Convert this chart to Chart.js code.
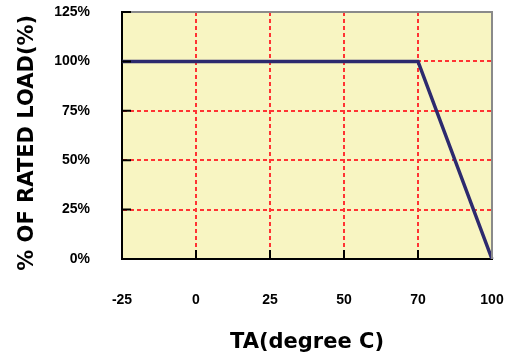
<!DOCTYPE html>
<html><head><meta charset="utf-8">
<script src="https://cdn.jsdelivr.net/npm/chart.js@4/dist/chart.umd.min.js"></script>
<style>html,body{margin:0;padding:0;background:#fff}#wrap{width:508px;height:356px}</style>
</head><body><div id="wrap"><canvas id="c" width="508" height="356"></canvas></div>
<script>
const categories = ['-25', '0', '25', '50', '70', '100'];
const loadValues = [100, 100, 100, 100, 100, 0];
const yTicks = [0, 25, 50, 75, 100, 125];
const xTitle = 'TA(degree C)';
const yTitle = '% OF RATED LOAD(%)';

const tickFont = {family: '"Liberation Sans", Arial, sans-serif', size: 14, weight: 'bold'};
const titleFont = {family: '"DejaVu Sans", sans-serif', size: 21, weight: 'bold'};

const framePlugin = {
  id: 'frame',
  beforeDraw(chart) {
    const a = chart.chartArea, ctx = chart.ctx;
    ctx.save();
    ctx.fillStyle = '#F8F5C2';
    ctx.fillRect(a.left, a.top, a.right - a.left, a.bottom - a.top);
    ctx.restore();
  },
  afterDatasetsDraw(chart) {
    const a = chart.chartArea, ctx = chart.ctx;
    const xs = chart.scales.x, ys = chart.scales.y;
    ctx.save();
    ctx.strokeStyle = '#8A8A8A';
    ctx.lineWidth = 2;
    ctx.beginPath();
    ctx.moveTo(a.left, a.top); ctx.lineTo(a.right, a.top); ctx.lineTo(a.right, a.bottom);
    ctx.stroke();
    ctx.strokeStyle = '#000';
    ctx.lineWidth = 2;
    ctx.beginPath();
    ys.ticks.forEach((t, i) => {
      if (t.value === 0) return;
      const y = ys.getPixelForTick(i);
      ctx.moveTo(a.left, y); ctx.lineTo(a.left + 9, y);
    });
    xs.ticks.forEach((t, i) => {
      if (i === 0 || i === xs.ticks.length - 1) return;
      const x = xs.getPixelForTick(i);
      ctx.moveTo(x, a.bottom); ctx.lineTo(x, a.bottom - 9);
    });
    ctx.stroke();
    ctx.restore();
  }
};

new Chart(document.getElementById('c'), {
  type: 'line',
  data: {
    labels: categories,
    datasets: [{
      data: loadValues,
      borderColor: '#2D2A6E',
      borderWidth: 3.5,
      pointRadius: 0,
      tension: 0,
      fill: false
    }]
  },
  options: {
    responsive: false,
    animation: false,
    devicePixelRatio: 1,
    layout: {padding: {top: 12, right: 16, left: 0, bottom: 0}},
    plugins: {legend: {display: false}, tooltip: {enabled: false}},
    scales: {
      x: {
        type: 'category',
        offset: false,
        afterFit(s) { s.height = 97; s.paddingLeft = 0; s.paddingRight = 0; },
        grid: {
          drawTicks: false,
          lineWidth: 2,
          color: ctx => (ctx.index === 0 || ctx.index === categories.length - 1) ? 'rgba(0,0,0,0)' : '#FF3333'
        },
        border: {display: true, color: '#000', width: 2, dash: [4, 3]},
        ticks: {color: '#000', font: tickFont, padding: 33, maxRotation: 0, autoSkip: false},
        title: {display: true, text: xTitle, color: '#000', font: titleFont, padding: {top: 0, bottom: 1}}
      },
      y: {
        min: 0, max: 125,
        afterFit(s) { s.width = 122; s.paddingTop = 0; s.paddingBottom = 0; },
        afterBuildTicks(s) { s.ticks = yTicks.map(v => ({value: v})); },
        grid: {
          drawTicks: false,
          lineWidth: 2,
          color: ctx => (ctx.tick && (ctx.tick.value === 0 || ctx.tick.value === 125)) ? 'rgba(0,0,0,0)' : '#FF3333'
        },
        border: {display: true, color: '#000', width: 2, dash: [4, 3]},
        ticks: {color: '#000', font: tickFont, padding: 32, callback: v => v + '%'},
        title: {display: true, text: yTitle + '  ', color: '#000', font: titleFont, padding: {top: 15, bottom: 0}}
      }
    }
  },
  plugins: [framePlugin]
});
</script>
</body></html>
